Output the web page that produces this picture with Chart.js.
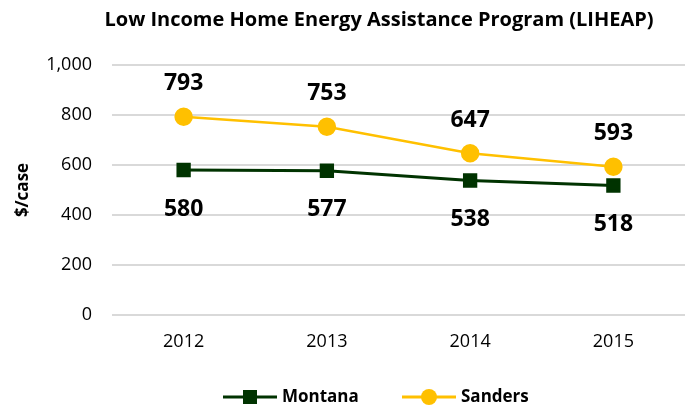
<!DOCTYPE html>
<html>
<head>
<meta charset="utf-8">
<script src="https://cdn.jsdelivr.net/npm/chart.js@4.4.1/dist/chart.umd.min.js"></script>
<style>
  html, body { margin: 0; padding: 0; background: #fff; }
  #wrap { width: 696px; height: 409px; position: relative; }
</style>
</head>
<body>
<div id="wrap"><canvas id="liheap_cntxt"></canvas></div>
<script>
var years = ["2012", "2013", "2014", "2015"];
var montana = [580, 577, 538, 518];
var sanders = [793, 753, 647, 593];
var yTicks = [0, 200, 400, 600, 800, 1000];
var chartTitle = 'Low Income Home Energy Assistance Program (LIHEAP)';

var FONT = "'Open Sans', sans-serif";
var GREEN = '#003300';
var GOLD = '#FFC000';

// title sits a bit right of the canvas centre, over the plot
var titlePlugin = {
    id: 'titlePlugin',
    afterDraw: function(chart) {
        var ctx = chart.ctx;
        ctx.save();
        ctx.font = 'bold 20px ' + FONT;
        ctx.fillStyle = '#000';
        ctx.textAlign = 'center';
        ctx.textBaseline = 'middle';
        ctx.fillText(chartTitle, 379, 20);
        ctx.restore();
    }
};

// value labels: Sanders above the point, Montana below
var valueLabels = {
    id: 'valueLabels',
    afterDatasetsDraw: function(chart) {
        var ctx = chart.ctx;
        ctx.save();
        ctx.font = 'bold 23px ' + FONT;
        ctx.fillStyle = '#000';
        ctx.textAlign = 'center';
        ctx.textBaseline = 'middle';
        chart.data.datasets.forEach(function(ds, i) {
            var meta = chart.getDatasetMeta(i);
            meta.data.forEach(function(pt, j) {
                var dy = ds.label === 'Sanders' ? -33 : 39;
                ctx.fillText(ds.data[j].toLocaleString('en-US'), pt.x, pt.y + dy);
            });
        });
        ctx.restore();
    }
};

// legend with a short line through each marker
var lineLegend = {
    id: 'lineLegend',
    afterDraw: function(chart) {
        var ctx = chart.ctx;
        var y = 397;
        var items = [
            {x: 223, label: 'Montana', color: GREEN, style: 'rect'},
            {x: 402, label: 'Sanders', color: GOLD, style: 'circle'}
        ];
        ctx.save();
        items.forEach(function(it) {
            ctx.strokeStyle = it.color;
            ctx.lineWidth = 3;
            ctx.beginPath();
            ctx.moveTo(it.x, y);
            ctx.lineTo(it.x + 54, y);
            ctx.stroke();
            ctx.fillStyle = it.color;
            if (it.style === 'rect') {
                ctx.fillRect(it.x + 27 - 7, y - 7, 14, 14);
            } else {
                ctx.beginPath();
                ctx.arc(it.x + 27, y, 8, 0, Math.PI * 2);
                ctx.fill();
            }
            ctx.fillStyle = '#000';
            ctx.font = 'bold 17px ' + FONT;
            ctx.textAlign = 'left';
            ctx.textBaseline = 'middle';
            ctx.fillText(it.label, it.x + 59, y);
        });
        ctx.restore();
    }
};

var cntxt = document.getElementById('liheap_cntxt').getContext('2d');
var liheap_chart = new Chart(cntxt, {
    type: 'line',
    data: {
        labels: years,
        datasets: [{
            label: 'Montana',
            data: montana,
            borderColor: GREEN,
            backgroundColor: GREEN,
            borderWidth: 3,
            pointStyle: 'rect',
            pointRadius: 8,
            pointHoverRadius: 8,
            tension: 0
        }, {
            label: 'Sanders',
            data: sanders,
            borderColor: GOLD,
            backgroundColor: GOLD,
            borderWidth: 2.5,
            pointStyle: 'circle',
            pointRadius: 8,
            pointHoverRadius: 8,
            tension: 0
        }]
    },
    options: {
        responsive: true,
        maintainAspectRatio: false,
        animation: false,
        layout: { padding: { left: 13, right: 1, top: 65, bottom: 0 } },
        plugins: {
            legend: { display: false },
            tooltip: { enabled: false },
            title: { display: false }
        },
        scales: {
            x: {
                offset: true,
                grid: { display: false },
                border: { display: false },
                ticks: { color: '#000', font: { family: FONT, size: 18 }, padding: 8 },
                afterFit: function(scale) { scale.height = 94; }
            },
            y: {
                min: 0,
                max: 1000,
                afterBuildTicks: function(scale) {
                    scale.ticks = yTicks.map(function(v) { return {value: v}; });
                },
                grid: { color: '#d9d9d9', lineWidth: 2, drawTicks: false },
                border: { display: false },
                ticks: {
                    color: '#000',
                    font: { family: FONT, size: 18 },
                    padding: 20,
                    callback: function(v) { return v.toLocaleString('en-US'); }
                },
                title: {
                    display: true,
                    text: '$/case',
                    color: '#000',
                    font: { family: FONT, size: 17, weight: 'bold' },
                    padding: 0
                },
                afterFit: function(scale) { scale.width = 99; }
            }
        }
    },
    plugins: [titlePlugin, valueLabels, lineLegend]
});
</script>
</body>
</html>
